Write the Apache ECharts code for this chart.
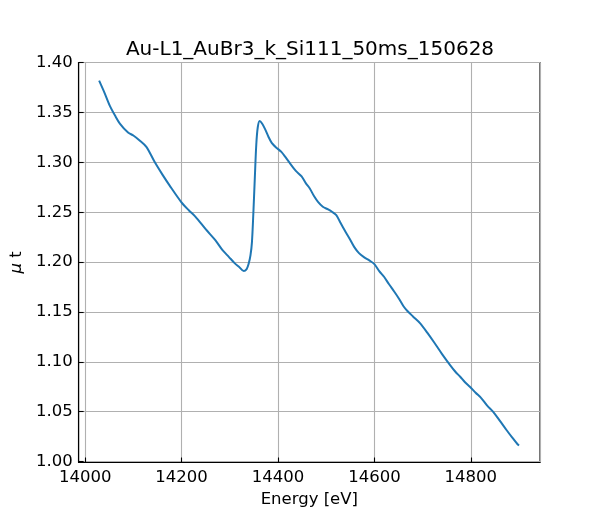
<!DOCTYPE html>
<html>
<head>
<meta charset="utf-8">
<script src="https://cdn.jsdelivr.net/npm/echarts@6/dist/echarts.min.js"></script>
<style>
    html, body { margin: 0; padding: 0; background: #fff; }
    #chart { width: 600px; height: 520px; }
</style>
</head>
<body>
<div id="chart"></div>
<script>
// energy [eV] and absorption (mu t)
const energy = [
    14029, 14040, 14051, 14062, 14072, 14089, 14100, 14113, 14127, 14144,
    14160, 14175, 14199, 14215, 14229, 14250, 14270, 14285, 14298, 14310,
    14319, 14329, 14335, 14339, 14343, 14346, 14349, 14352, 14355, 14358,
    14362, 14367, 14373, 14380, 14387, 14396, 14407, 14416, 14425, 14437,
    14449, 14458, 14466, 14475, 14483, 14493, 14504, 14512, 14521, 14529,
    14538, 14548, 14558, 14568, 14579, 14590, 14600, 14610, 14620, 14630,
    14641, 14650, 14660, 14668, 14680, 14695, 14710, 14723, 14740, 14757,
    14768, 14778, 14788, 14798, 14810, 14822, 14834, 14846, 14860, 14874,
    14886, 14897, 14900
];
const mu_t = [
    1.382, 1.370, 1.357, 1.347, 1.339, 1.330, 1.327, 1.322, 1.3156, 1.3006,
    1.288, 1.277, 1.2605, 1.252, 1.2454, 1.233, 1.222, 1.212, 1.2053, 1.199,
    1.1953, 1.191, 1.193, 1.198, 1.207, 1.220, 1.250, 1.285, 1.318, 1.335,
    1.3415, 1.339, 1.3336, 1.326, 1.3196, 1.315, 1.3106, 1.305, 1.299, 1.2915,
    1.286, 1.279, 1.2739, 1.266, 1.2604, 1.2555, 1.2528, 1.2505, 1.2471, 1.240,
    1.2321, 1.224, 1.2153, 1.209, 1.2047, 1.2015, 1.198, 1.191, 1.1853, 1.178,
    1.1705, 1.164, 1.156, 1.1512, 1.1455, 1.1386, 1.129, 1.1201, 1.108, 1.0967,
    1.090, 1.085, 1.0795, 1.075, 1.069, 1.0634, 1.056, 1.050, 1.041, 1.0316,
    1.024, 1.0173, 1.016
];

const title = 'Au-L1_AuBr3_k_Si111_50ms_150628';
const font = 'DejaVu Sans';

let chart = echarts.init(document.getElementById('chart'));

let points = energy.map(function (e, i) {
    return [e, mu_t[i]];
});

let options = {
    animation: false,
    title: {
        text: title,
        left: 305,
        textAlign: 'center',
        top: 35,
        textStyle: {
            fontFamily: font,
            fontSize: 20,
            fontWeight: 'normal',
            color: '#000'
        }
    },
    grid: {
        left: 75,
        right: 60,
        top: 62.5,
        bottom: 57.5,
        show: true,
        borderColor: '#000',
        borderWidth: 1.1,
        backgroundColor: 'transparent'
    },
    xAxis: {
        type: 'value',
        min: 13986.5,
        max: 14943.5,
        splitNumber: 5,
        name: 'Energy [eV]',
        nameLocation: 'middle',
        nameGap: 28,
        nameTextStyle: { fontFamily: font, fontSize: 16.5, color: '#000' },
        axisLine: { show: true, lineStyle: { color: '#000', width: 1.1 } },
        axisTick: { show: true, inside: true, length: 5, lineStyle: { color: '#000', width: 1.1 } },
        axisLabel: {
            showMinLabel: false,
            showMaxLabel: false,
            margin: 7,
            fontFamily: font,
            fontSize: 16.5,
            color: '#000',
            formatter: function (v) { return String(v); }
        },
        splitLine: { show: true, lineStyle: { color: '#b0b0b0', width: 1.1 } }
    },
    yAxis: {
        type: 'value',
        min: 0.999,
        max: 1.4002,
        splitNumber: 8,
        name: '{i|μ} t',
        nameLocation: 'middle',
        nameGap: 48,
        nameTextStyle: {
            fontFamily: font,
            fontSize: 16.5,
            color: '#000',
            rich: {
                i: { fontFamily: font, fontSize: 16.5, fontStyle: 'italic', color: '#000' }
            }
        },
        axisLine: { show: true, lineStyle: { color: '#000', width: 1.1 } },
        axisTick: { show: true, inside: true, length: 5, lineStyle: { color: '#000', width: 1.1 } },
        axisLabel: {
            showMinLabel: false,
            showMaxLabel: false,
            margin: 6,
            fontFamily: font,
            fontSize: 16.5,
            color: '#000',
            formatter: function (v) { return v.toFixed(2); }
        },
        splitLine: { show: true, lineStyle: { color: '#b0b0b0', width: 1.1 } }
    },
    series: [
        {
            type: 'line',
            data: points,
            showSymbol: false,
            smooth: 0.3,
            lineStyle: { color: '#1f77b4', width: 2 },
            itemStyle: { color: '#1f77b4' }
        }
    ]
};

chart.setOption(options);
</script>
</body>
</html>
